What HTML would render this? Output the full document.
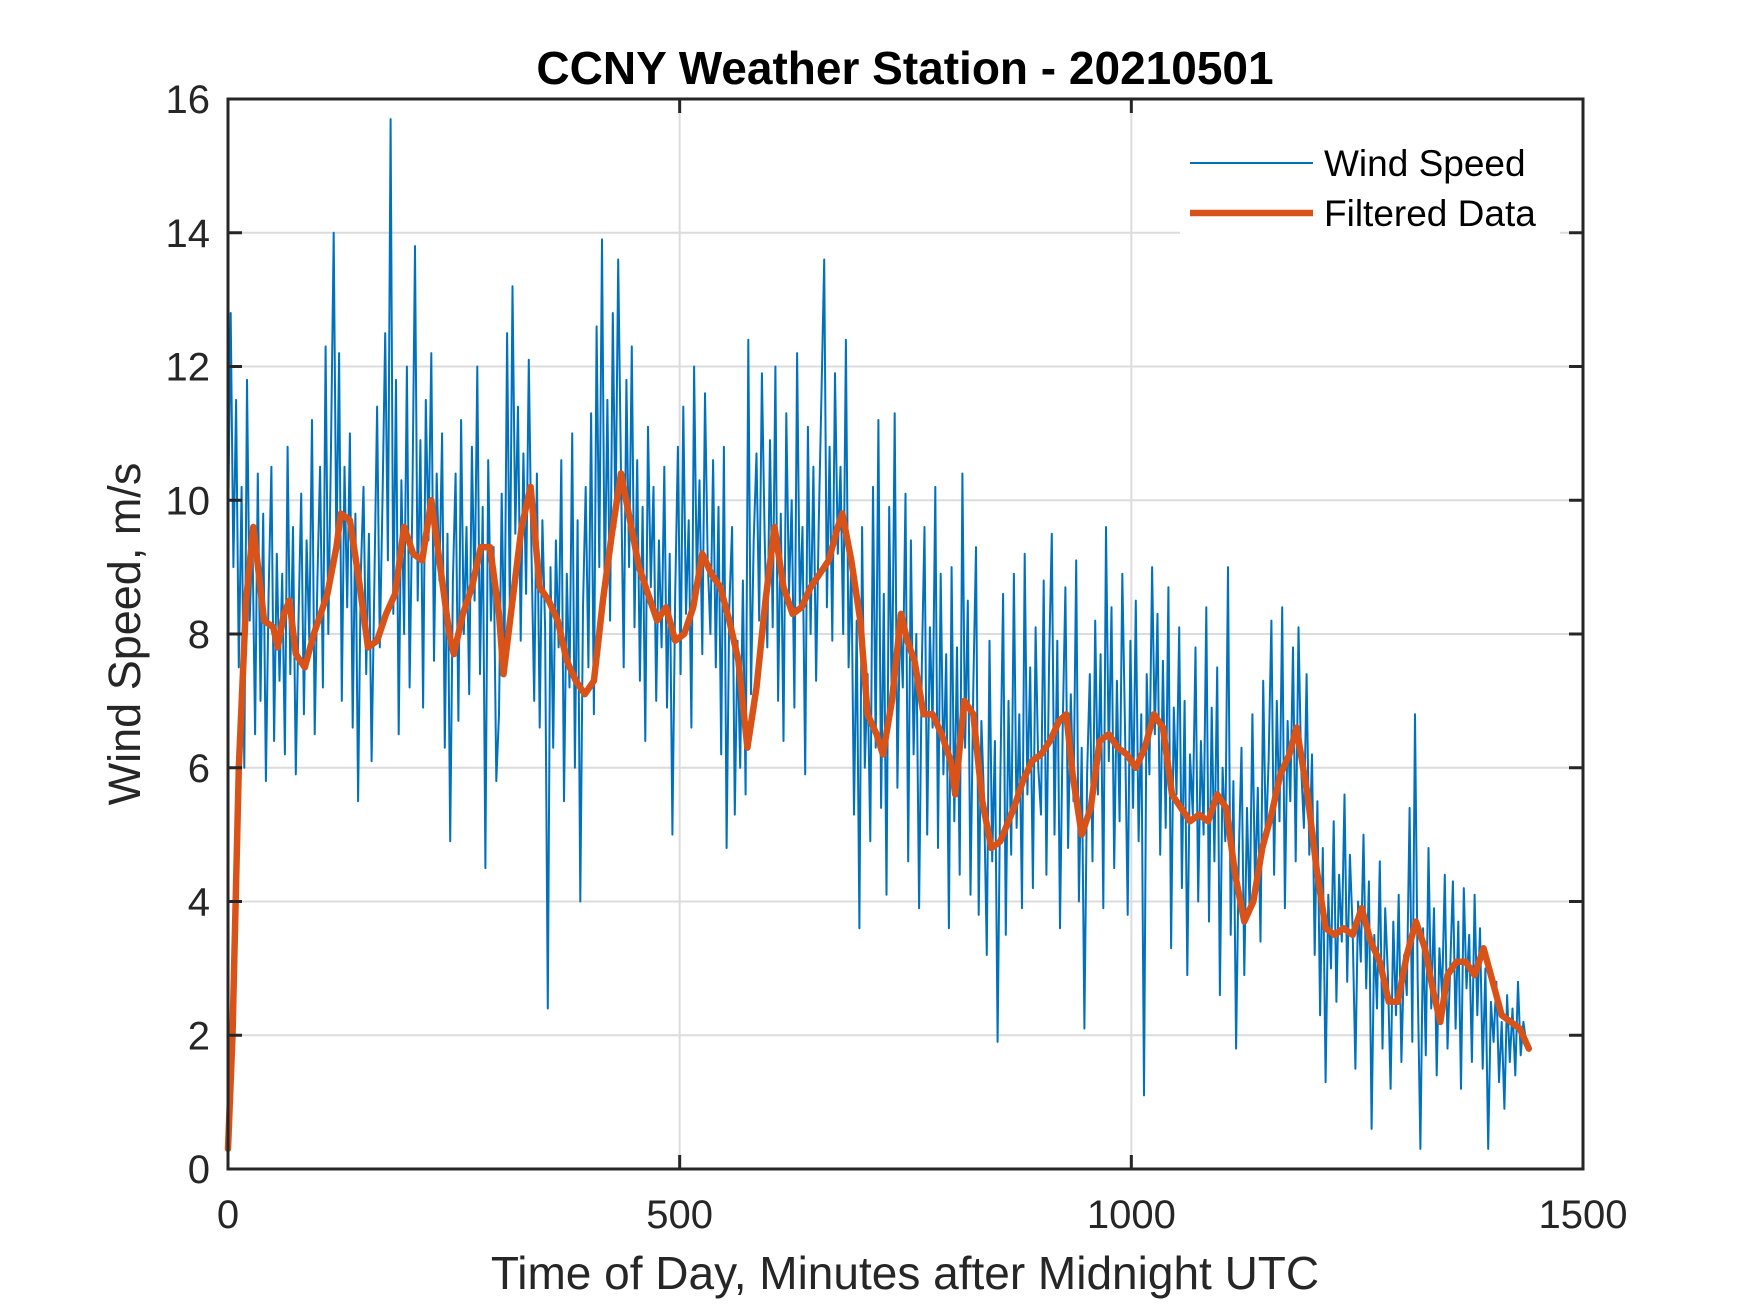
<!DOCTYPE html>
<html><head><meta charset="utf-8"><style>
html,body{margin:0;padding:0;background:#fff}
svg{display:block;font-family:"Liberation Sans",Arial,sans-serif}
</style></head><body>
<svg id="chart" width="1750" height="1313" viewBox="0 0 1750 1313">
<rect width="1750" height="1313" fill="#fff"/>
<rect x="228" y="99" width="1355" height="1070" fill="#fff"/>
<g id="grid"></g>
<g id="series"></g>
<g id="axes"></g>
<text x="905" y="84" text-anchor="middle" font-size="46" font-weight="bold" fill="#000">CCNY Weather Station - 20210501</text>
<text x="905" y="1289" text-anchor="middle" font-size="46" fill="#262626">Time of Day, Minutes after Midnight UTC</text>
<text transform="translate(140,634) rotate(-90)" text-anchor="middle" font-size="45" fill="#262626">Wind Speed, m/s</text>
<g>
<rect x="1180" y="135" width="380" height="100" fill="#fff"/>
<line x1="1190" y1="163" x2="1313" y2="163" stroke="#0072BD" stroke-width="2"/>
<text x="1324" y="176" font-size="37" fill="#000">Wind Speed</text>
<line x1="1190" y1="213" x2="1313" y2="213" stroke="#D95319" stroke-width="6.5"/>
<text x="1324" y="226" font-size="37" fill="#000">Filtered Data</text>
</g>
</svg>
<script>
const xTicks = [0, 500, 1000, 1500];
const yTicks = [0, 2, 4, 6, 8, 10, 12, 14, 16];
const rawStep = 3;
const rawValues = [
9.5,12.8,9.0,11.5,7.5,10.2,6.0,11.8,8.2,9.5,6.5,10.4,7.0,9.8,5.8,8.6,10.5,6.4,9.2,7.3,
8.9,6.2,10.8,7.4,9.6,5.9,8.2,10.1,6.8,9.4,7.9,11.2,6.5,8.8,10.5,7.2,12.3,8.0,10.8,14.0,
9.2,12.2,7.0,10.5,8.4,11.0,6.6,9.8,5.5,8.9,10.2,7.4,9.5,6.1,8.7,11.4,7.8,10.0,12.5,9.1,
15.7,8.3,11.8,6.5,10.3,8.0,12.0,7.2,9.9,13.8,8.5,10.9,6.9,11.5,9.4,12.2,7.6,10.4,8.8,11.0,
6.3,9.5,4.9,8.8,10.4,6.7,11.2,8.0,9.6,7.1,10.8,8.5,12.0,7.4,9.9,4.5,10.6,8.2,9.3,5.8,
6.8,10.1,7.6,12.5,8.4,13.2,9.5,11.4,7.9,10.7,8.6,12.1,9.2,7.0,10.4,6.6,9.7,8.1,2.4,9.0,
6.3,9.4,7.8,10.6,5.5,8.9,7.2,11.0,6.0,9.7,4.0,8.4,10.2,7.5,11.3,6.8,12.6,9.0,13.9,8.6,
11.5,8.2,12.8,9.6,13.6,10.4,7.5,11.8,9.0,12.3,8.1,10.6,7.3,9.9,6.4,11.1,8.7,10.2,7.0,9.4,
7.8,10.5,6.9,9.2,5.0,8.6,10.8,7.4,11.4,8.3,9.7,6.6,12.0,8.8,10.3,7.7,11.6,9.1,8.0,10.6,
7.5,9.9,6.2,10.8,4.8,8.4,9.6,5.3,7.9,6.0,8.8,5.6,12.4,7.1,9.4,10.7,8.2,11.9,9.5,7.8,
10.9,8.1,12.0,7.0,9.8,6.4,11.3,8.6,10.0,6.9,12.2,8.4,9.6,5.9,11.1,8.0,10.5,7.3,9.7,11.6,
13.6,8.4,10.8,7.9,11.9,9.2,10.5,8.0,12.4,7.5,9.1,5.3,8.2,3.6,9.6,6.0,7.4,4.9,10.2,6.3,
11.2,5.4,8.6,4.1,9.9,6.8,11.3,5.7,8.3,7.2,10.1,4.6,9.4,6.2,8.0,3.9,7.5,9.6,5.0,8.1,
6.6,10.2,4.8,8.9,5.9,7.7,3.6,9.0,5.2,7.8,4.4,10.4,6.3,8.5,4.1,7.2,9.3,3.8,6.7,5.5,
3.2,7.9,4.6,6.4,1.9,5.8,8.6,3.5,7.0,4.7,8.9,5.1,6.8,3.9,9.2,5.6,7.5,4.2,8.1,6.0,
5.3,8.8,4.4,7.6,9.5,5.0,7.9,3.6,6.6,8.7,4.8,7.1,5.5,9.1,4.0,6.3,2.1,5.9,7.4,4.6,
8.2,5.6,7.7,3.9,9.6,6.1,8.4,4.5,7.3,5.2,8.9,6.6,3.8,7.9,5.4,8.5,4.9,6.8,1.1,7.4,
5.9,9.0,6.5,8.3,4.7,7.6,5.1,8.7,3.3,6.9,5.6,8.1,4.2,7.0,2.9,6.2,5.3,7.8,4.0,6.4,
5.0,8.4,3.7,6.9,4.6,7.5,2.6,6.0,4.9,9.0,3.5,5.8,1.8,4.7,6.3,2.9,5.4,3.8,6.8,4.2,
5.7,3.4,7.3,4.9,6.1,8.2,4.4,7.0,5.2,8.4,3.9,6.7,5.5,7.8,4.6,8.1,6.0,5.1,7.4,4.7,
6.2,3.2,5.5,2.3,4.8,1.3,4.1,3.0,5.2,2.5,4.4,3.4,5.6,2.8,4.7,3.6,1.5,4.0,3.1,5.0,
2.7,4.3,0.6,3.5,2.4,4.6,1.8,3.9,2.9,1.2,3.7,2.3,4.1,1.6,3.2,2.6,5.4,1.9,6.8,2.8,
0.3,3.6,1.7,4.8,2.4,3.9,1.4,3.3,2.6,4.4,1.8,3.0,4.3,2.1,3.7,1.2,4.2,2.7,3.5,1.6,
4.1,2.3,3.6,1.5,3.0,0.3,2.5,1.9,2.8,1.3,2.2,0.9,2.6,1.6,2.4,1.4,2.8,1.7,2.2,1.9
];
const filteredTimes = [0,5,12,20,28,35,40,50,55,62,68,75,85,95,110,120,125,135,145,155,165,175,185,195,205,215,225,235,245,250,260,270,280,290,300,305,315,325,335,345,355,365,375,385,395,405,415,425,435,445,455,465,475,485,495,505,515,525,535,545,555,565,575,585,595,605,615,625,635,645,655,665,675,680,690,700,708,718,725,735,745,752,760,770,780,790,800,805,815,825,835,845,855,870,880,890,900,910,920,928,935,945,955,965,975,985,995,1005,1015,1025,1035,1045,1055,1065,1075,1085,1095,1105,1115,1125,1135,1145,1155,1165,1175,1183,1195,1205,1215,1225,1235,1245,1255,1265,1275,1285,1295,1305,1315,1325,1335,1342,1350,1360,1370,1380,1390,1400,1410,1420,1430,1440];
const filteredValues = [0.3,2,6,8.5,9.6,8.8,8.2,8.1,7.8,8.3,8.5,7.7,7.5,8,8.6,9.3,9.8,9.7,8.8,7.8,7.9,8.3,8.6,9.6,9.2,9.1,10,9,8,7.7,8.3,8.7,9.3,9.3,8.3,7.4,8.5,9.6,10.2,8.7,8.5,8.2,7.6,7.3,7.1,7.3,8.5,9.5,10.4,9.7,9,8.6,8.2,8.4,7.9,8,8.4,9.2,8.9,8.7,8.2,7.6,6.3,7.2,8.5,9.6,8.7,8.3,8.4,8.7,8.9,9.1,9.6,9.8,9.1,8.2,6.8,6.5,6.2,7,8.3,7.9,7.6,6.8,6.8,6.5,6.1,5.6,7,6.8,5.5,4.8,4.9,5.4,5.8,6.1,6.2,6.4,6.7,6.8,5.9,5,5.4,6.4,6.5,6.3,6.2,6,6.3,6.8,6.6,5.6,5.4,5.2,5.3,5.2,5.6,5.4,4.4,3.7,4,4.8,5.3,5.9,6.2,6.6,5.6,4.5,3.6,3.5,3.6,3.5,3.9,3.4,3.1,2.5,2.5,3.2,3.7,3.3,2.6,2.2,2.9,3.1,3.1,2.9,3.3,2.8,2.3,2.2,2.1,1.8];

const L=228,R=1583,T=99,B=1169,XMAX=1500,YMAX=16;
function sx(v){return L+(v/XMAX)*(R-L);}
function sy(v){return B-(v/YMAX)*(B-T);}
const NS='http://www.w3.org/2000/svg';
function mk(tag,attrs,parent){const e=document.createElementNS(NS,tag);for(const k in attrs)e.setAttribute(k,attrs[k]);parent.appendChild(e);return e;}
const grid=document.getElementById('grid'),axes=document.getElementById('axes'),series=document.getElementById('series');

xTicks.forEach(t=>{
  if(t>0&&t<XMAX){const g=mk('line',{x1:sx(t),x2:sx(t),y1:T,y2:B,stroke:'#dcdcdc','stroke-width':2},grid);
  
  }
  const a=mk('line',{x1:sx(t),x2:sx(t),y1:B,y2:B-14,stroke:'#262626','stroke-width':3},axes);
  
  
  const b=mk('line',{x1:sx(t),x2:sx(t),y1:T,y2:T+14,stroke:'#262626','stroke-width':3},axes);
  
  
  const tx=mk('text',{x:sx(t),y:1228,'text-anchor':'middle','font-size':40,fill:'#262626'},axes);
  tx.textContent=t;
  
  
});
yTicks.forEach(t=>{
  if(t>0&&t<YMAX){const g=mk('line',{x1:L,x2:R,y1:sy(t),y2:sy(t),stroke:'#dcdcdc','stroke-width':2},grid);
  
  }
  const a=mk('line',{x1:L,x2:L+14,y1:sy(t),y2:sy(t),stroke:'#262626','stroke-width':3},axes);
  
  
  const b=mk('line',{x1:R,x2:R-14,y1:sy(t),y2:sy(t),stroke:'#262626','stroke-width':3},axes);
  
  
  const tx=mk('text',{x:210,y:sy(t)+14,'text-anchor':'end','font-size':40,fill:'#262626'},axes);
  tx.textContent=t;
  
  
});
const box=mk('rect',{x:L,y:T,width:R-L,height:B-T,fill:'none',stroke:'#262626','stroke-width':3},axes);



let d='';
rawValues.forEach((v,i)=>{d+=(i?'L':'M')+sx(i*rawStep).toFixed(1)+','+sy(v).toFixed(1);});
const raw=mk('path',{d:d,fill:'none',stroke:'#0072BD','stroke-width':2,'stroke-linejoin':'round'},series);


let d2='';
filteredValues.forEach((v,i)=>{d2+=(i?'L':'M')+sx(filteredTimes[i]).toFixed(1)+','+sy(v).toFixed(1);});
const filt=mk('path',{d:d2,fill:'none',stroke:'#D95319','stroke-width':6.5,'stroke-linejoin':'round','stroke-linecap':'round'},series);


</script>
</body></html>
